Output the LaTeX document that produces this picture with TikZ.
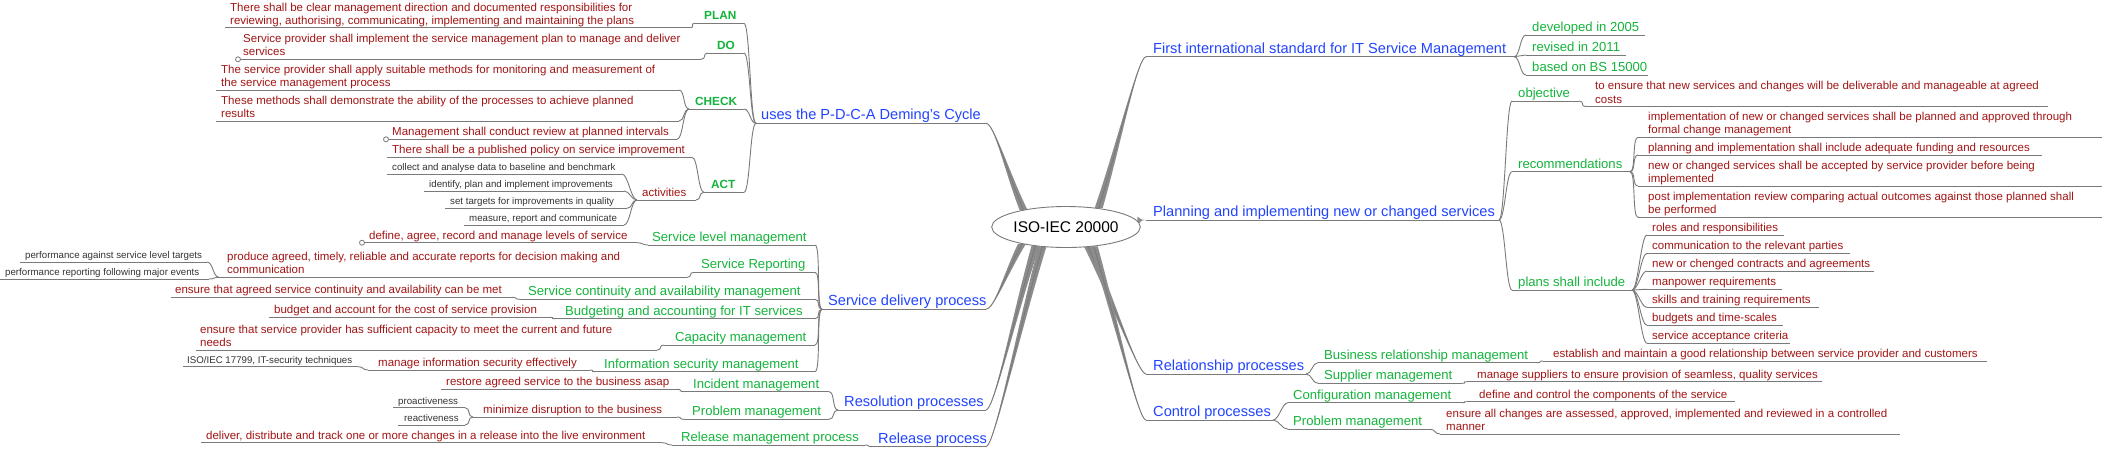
\documentclass[tikz,border=0pt]{standalone}
\usepackage{fontspec}
\setmainfont{Liberation Sans}
\usetikzlibrary{calc,shapes.geometric,backgrounds}
\definecolor{tblue}{HTML}{2244FF}
\definecolor{tgreen}{HTML}{14B43C}
\definecolor{tred}{HTML}{A31515}
\definecolor{tgray}{HTML}{333333}
\definecolor{lgray}{HTML}{7A7A7A}
\definecolor{trk}{HTML}{8C8C8C}
\tikzset{
 bluet/.style={text=tblue,font=\fontsize{14.6}{17}\selectfont,inner sep=0},
 greent/.style={text=tgreen,font=\fontsize{13.1}{15}\selectfont,inner sep=0},
 greenb/.style={text=tgreen,font=\fontsize{11.8}{14}\selectfont\bfseries,inner sep=0},
 redt/.style={text=tred,font=\fontsize{11.5}{13.3}\selectfont,inner sep=0,align=left},
 grayt/.style={text=tgray,font=\fontsize{9.7}{11}\selectfont,inner sep=0},
 ul/.style={draw=lgray,line width=0.9pt},
 conn/.style={draw=lgray,line width=0.9pt},
 knob/.style={draw=lgray,fill=white,line width=0.8pt},
 rootn/.style={ellipse,draw=lgray,fill=white,line width=0.9pt,minimum width=133,minimum height=41,inner sep=0,font=\fontsize{15.5}{18}\selectfont},
}
\newcommand\topicx[8]{%
 \coordinate (#1-l) at (#2,#4);
 \coordinate (#1-r) at (#3,#4);
 \pgfmathsetmacro\tpy{#4-3.5}
 \node[#6,anchor=base west] (#1) at (#5,\tpy) {#8};
 \draw[ul] (#1-l) -- (#1-r);
}
\newcommand\lcon[2]{\draw[conn] (#1-l) .. controls ($(#1-l)+(-6,0)$) and ($(#2-r)+(6,0)$) .. (#2-r);}
\newcommand\rcon[2]{\draw[conn] (#1-r) .. controls ($(#1-r)+(6,0)$) and ($(#2-l)+(-6,0)$) .. (#2-l);}
\newcommand\trunk[3]{%
 \fill[trk] ($(#1)+(-4,0)$) .. controls ($(#1)!0.45!(#2)+(-2,0)$) and ($(#2)+(#3,0)$) .. (#2)
   .. controls ($(#2)+(#3,0)$) and ($(#1)!0.45!(#2)+(2,0)$) .. ($(#1)+(4,0)$) -- cycle;
 \draw[conn] (#1) .. controls ($(#1)!0.45!(#2)$) and ($(#2)+(#3,0)$) .. (#2);
}
\newcommand\trunkv[3]{%
 \fill[trk] ($(#1)+(0,-4)$) .. controls ($(#1)!0.5!(#2)+(0,-1.5)$) and ($(#2)+(#3,0)$) .. (#2)
   .. controls ($(#2)+(#3,0)$) and ($(#1)!0.5!(#2)+(0,1.5)$) .. ($(#1)+(0,4)$) -- cycle;
}
\begin{document}
\begin{tikzpicture}[x=1pt,y=-1pt]
\begin{pgfonlayer}{background}
\fill[white] (0,0) rectangle (2102,448);
\end{pgfonlayer}
\useasboundingbox (0,0) rectangle (2102,448);

% ---------- left: P-D-C-A ----------
\topicx{uses}{756}{986}{123.3}{761}{bluet}{1}{uses the P-D-C-A Deming's Cycle}
\topicx{plan}{695}{744}{23.3}{704}{greenb}{1}{PLAN}
\topicx{planc}{225}{690}{27.8}{230}{redt}{2}{There shall be clear management direction and documented responsibilities for\\reviewing, authorising, communicating, implementing and maintaining the plans}
\topicx{do}{708}{744}{53}{717}{greenb}{1}{DO}
\topicx{doc}{238}{701}{59.3}{243}{redt}{2}{Service provider shall implement the service management plan to manage and deliver\\services}
\topicx{check}{689}{744}{109}{695}{greenb}{1}{CHECK}
\topicx{checka}{216}{679}{90}{221}{redt}{2}{The service provider shall apply suitable methods for monitoring and measurement of\\the service management process}
\topicx{checkb}{216}{679}{121}{221}{redt}{2}{These methods shall demonstrate the ability of the processes to achieve planned\\results}
\topicx{checkc}{386}{677}{139.3}{392}{redt}{1}{Management shall conduct review at planned intervals}
\topicx{act}{704}{744}{192.3}{711}{greenb}{1}{ACT}
\topicx{acta}{387}{692}{157.3}{392}{redt}{1}{There shall be a published policy on service improvement}
\topicx{actv}{637}{696}{200}{642}{redt}{1}{activities}
\topicx{act1}{387}{622}{174}{392}{grayt}{1}{collect and analyse data to baseline and benchmark}
\topicx{act2}{424}{624}{191}{429}{grayt}{1}{identify, plan and implement improvements}
\topicx{act3}{445}{627}{208.3}{450}{grayt}{1}{set targets for improvements in quality}
\topicx{act4}{464}{624}{225}{469}{grayt}{1}{measure, report and communicate}
\lcon{uses}{plan}\lcon{uses}{do}\lcon{uses}{check}\lcon{uses}{act}
\lcon{plan}{planc}\lcon{do}{doc}
\lcon{check}{checka}\lcon{check}{checkb}\lcon{check}{checkc}
\lcon{act}{acta}\lcon{act}{actv}
\lcon{actv}{act1}\lcon{actv}{act2}\lcon{actv}{act3}\lcon{actv}{act4}

% ---------- left: service delivery ----------
\topicx{sdp}{822}{986}{309.3}{828}{bluet}{1}{Service delivery process}
\topicx{slm}{648}{815}{245}{652}{greent}{1}{Service level management}
\topicx{slmc}{362}{637}{242.7}{369}{redt}{1}{define, agree, record and manage levels of service}
\topicx{srep}{694}{815}{272.3}{701}{greent}{1}{Service Reporting}
\topicx{srepc}{219}{687}{277.3}{227}{redt}{2}{produce agreed, timely, reliable and accurate reports for decision making and\\communication}
\topicx{srep1}{20}{207}{262}{25}{grayt}{1}{performance against service level targets}
\topicx{srep2}{0}{209}{279}{5}{grayt}{1}{performance reporting following major events}
\topicx{scam}{520}{815}{299.3}{528}{greent}{1}{Service continuity and availability management}
\topicx{scamc}{171}{512}{297.3}{175}{redt}{1}{ensure that agreed service continuity and availability can be met}
\topicx{bud}{555}{815}{318.7}{565}{greent}{1}{Budgeting and accounting for IT services}
\topicx{budc}{269}{550}{317.3}{274}{redt}{1}{budget and account for the cost of service provision}
\topicx{cap}{664}{815}{345}{675}{greent}{1}{Capacity management}
\topicx{capc}{196}{657}{350}{200}{redt}{2}{ensure that service provider has sufficient capacity to meet the current and future\\needs}
\topicx{ism}{595}{815}{371.7}{604}{greent}{1}{Information security management}
\topicx{ismc}{368}{590}{370}{378}{redt}{1}{manage information security effectively}
\topicx{ismcc}{183}{358}{366.7}{187}{grayt}{1}{ISO/IEC 17799, IT-security techniques}
\lcon{sdp}{slm}\lcon{sdp}{srep}\lcon{sdp}{scam}\lcon{sdp}{bud}\lcon{sdp}{cap}\lcon{sdp}{ism}
\lcon{slm}{slmc}\lcon{srep}{srepc}\lcon{srepc}{srep1}\lcon{srepc}{srep2}
\lcon{scam}{scamc}\lcon{bud}{budc}\lcon{cap}{capc}\lcon{ism}{ismc}\lcon{ismc}{ismcc}

% ---------- left: resolution / release ----------
\topicx{res}{838}{986}{410}{844}{bluet}{1}{Resolution processes}
\topicx{inc}{684}{829}{391.7}{693}{greent}{1}{Incident management}
\topicx{incc}{441}{677}{389.3}{446}{redt}{1}{restore agreed service to the business asap}
\topicx{prob}{684}{829}{419.3}{692}{greent}{1}{Problem management}
\topicx{probc}{473}{677}{417}{483}{redt}{1}{minimize disruption to the business}
\topicx{proa}{393}{465}{407.7}{398}{grayt}{1}{proactiveness}
\topicx{reac}{398}{465}{425}{404}{grayt}{1}{reactiveness}
\lcon{res}{inc}\lcon{res}{prob}\lcon{inc}{incc}\lcon{prob}{probc}\lcon{probc}{proa}\lcon{probc}{reac}
\topicx{rel}{872}{986}{446.7}{878}{bluet}{1}{Release process}
\topicx{rmp}{672}{865}{445}{681}{greent}{1}{Release management process}
\topicx{rmpc}{201}{662}{442.7}{206}{redt}{1}{deliver, distribute and track one or more changes in a release into the live environment}
\lcon{rel}{rmp}\lcon{rmp}{rmpc}

% ---------- right ----------
\topicx{first}{1146}{1514}{56.7}{1153}{bluet}{1}{First international standard for IT Service Management}
\topicx{dev}{1526}{1645}{35}{1532}{greent}{1}{developed in 2005}
\topicx{rev}{1526}{1626}{55}{1532}{greent}{1}{revised in 2011}
\topicx{bs}{1526}{1648}{75}{1532}{greent}{1}{based on BS 15000}
\rcon{first}{dev}\rcon{first}{rev}\rcon{first}{bs}

\topicx{pln}{1146}{1499}{220}{1153}{bluet}{1}{Planning and implementing new or changed services}
\topicx{obj}{1512}{1579}{101}{1518}{greent}{1}{objective}
\topicx{objc}{1586}{2048}{106.7}{1595}{redt}{2}{to ensure that new services and changes will be deliverable and manageable at agreed\\costs}
\topicx{recs}{1512}{1630}{171.7}{1518}{greent}{1}{recommendations}
\topicx{rec1}{1638}{2102}{137.3}{1648}{redt}{2}{implementation of new or changed services shall be planned and approved through\\formal change management}
\topicx{rec2}{1638}{2042}{155}{1648}{redt}{1}{planning and implementation shall include adequate funding and resources}
\topicx{rec3}{1638}{2102}{186}{1648}{redt}{2}{new or changed services shall be accepted by service provider before being\\implemented}
\topicx{rec4}{1638}{2102}{217.3}{1648}{redt}{2}{post implementation review comparing actual outcomes against those planned shall\\be performed}
\topicx{psi}{1512}{1632}{290}{1518}{greent}{1}{plans shall include}
\topicx{psi1}{1647}{1784}{235}{1652}{redt}{1}{roles and responsibilities}
\topicx{psi2}{1647}{1850}{253.3}{1652}{redt}{1}{communication to the relevant parties}
\topicx{psi3}{1647}{1874}{271}{1652}{redt}{1}{new or chenged contracts and agreements}
\topicx{psi4}{1647}{1782}{289.3}{1652}{redt}{1}{manpower requirements}
\topicx{psi5}{1647}{1819}{307.3}{1652}{redt}{1}{skills and training requirements}
\topicx{psi6}{1647}{1783}{325.3}{1652}{redt}{1}{budgets and time-scales}
\topicx{psi7}{1647}{1790}{343.3}{1652}{redt}{1}{service acceptance criteria}
\rcon{pln}{obj}\rcon{pln}{recs}\rcon{pln}{psi}\rcon{obj}{objc}
\rcon{recs}{rec1}\rcon{recs}{rec2}\rcon{recs}{rec3}\rcon{recs}{rec4}
\rcon{psi}{psi1}\rcon{psi}{psi2}\rcon{psi}{psi3}\rcon{psi}{psi4}\rcon{psi}{psi5}\rcon{psi}{psi6}\rcon{psi}{psi7}

\topicx{rlp}{1146}{1306}{374}{1153}{bluet}{1}{Relationship processes}
\topicx{brm}{1318}{1537}{362.7}{1324}{greent}{1}{Business relationship management}
\topicx{brmc}{1543}{1987}{361}{1553}{redt}{1}{establish and maintain a good relationship between service provider and customers}
\topicx{sup}{1318}{1462}{383.3}{1324}{greent}{1}{Supplier management}
\topicx{supc}{1467}{1822}{381.7}{1477}{redt}{1}{manage suppliers to ensure provision of seamless, quality services}
\rcon{rlp}{brm}\rcon{rlp}{sup}\rcon{brm}{brmc}\rcon{sup}{supc}

\topicx{ctrl}{1146}{1273}{420}{1153}{bluet}{1}{Control processes}
\topicx{cfg}{1288}{1462}{402.7}{1293}{greent}{1}{Configuration management}
\topicx{cfgc}{1467}{1735}{401.7}{1479}{redt}{1}{define and control the components of the service}
\topicx{pm2}{1288}{1430}{429.3}{1293}{greent}{1}{Problem management}
\topicx{pm2c}{1440}{1900}{434}{1446}{redt}{2}{ensure all changes are assessed, approved, implemented and reviewed in a controlled\\manner}
\rcon{ctrl}{cfg}\rcon{ctrl}{pm2}\rcon{cfg}{cfgc}\rcon{pm2}{pm2c}

% knobs
\draw[knob] (doc-l) circle (2.5);
\draw[knob] (checkc-l) circle (2.5);
\draw[knob] (slmc-l) circle (2.5);

% ---------- root ----------
\node[rootn] (root) at (1066,227) {ISO-IEC 20000};
\begin{pgfonlayer}{background}
\trunk{root.158}{uses-r}{8}
\trunk{root.201}{sdp-r}{8}
\trunk{root.212}{res-r}{8}
\trunk{root.220}{rel-r}{8}
\trunk{root.30}{first-l}{-8}
\trunk{root.318}{rlp-l}{-8}
\trunk{root.325}{ctrl-l}{-8}
\trunkv{root.5}{pln-l}{-6}
\end{pgfonlayer}
\end{tikzpicture}
\end{document}
